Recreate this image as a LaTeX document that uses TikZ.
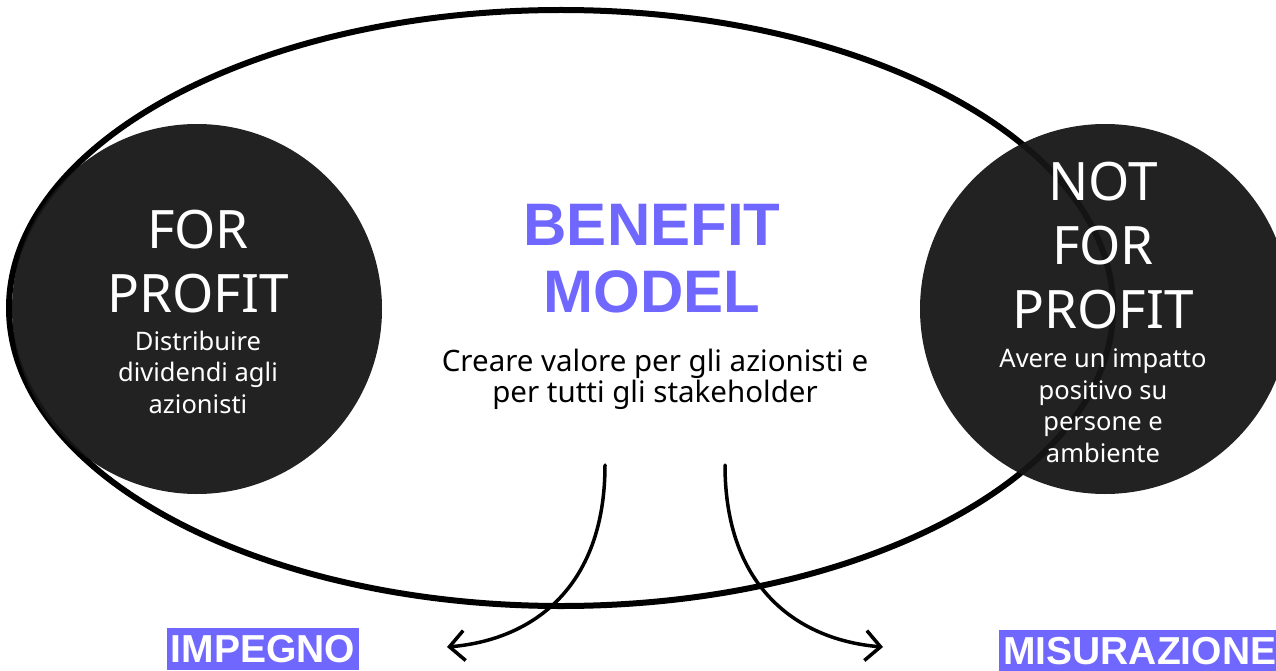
\documentclass[tikz,border=0pt]{standalone}
\usepackage{fontspec}
\setmainfont{Noto Sans}
\newfontfamily\heavy{Liberation Sans}
\usetikzlibrary{arrows.meta,shapes.geometric}
\definecolor{purp}{RGB}{112,103,255}
\definecolor{dark}{RGB}{22,22,22}
\tikzset{
  disc/.style={circle, fill=dark, fill opacity=0.95, minimum size=370pt, inner sep=0pt},
  bigtxt/.style={text=white, font=\fontsize{53}{64}\selectfont, align=center, inner sep=0pt, anchor=base},
  subtxt/.style={text=white, font=\fontsize{25.5}{31.5}\selectfont, align=center, inner sep=0pt, anchor=base},
  tag/.style={fill=purp, text=white, font=\heavy\bfseries\fontsize{39}{39}\selectfont, inner xsep=4pt, inner ysep=4pt, text height=30pt, text depth=4pt, anchor=base},
  curvearrow/.style={line width=3.5pt, line cap=round, -{Straight Barb[length=15pt,width=30pt,line width=3.5pt]}}
}
\begin{document}
\begin{tikzpicture}[x=1pt,y=-1pt]
\useasboundingbox (0,0) rectangle (1276,671);
\node[draw=black, line width=6pt, ellipse, minimum width=1104pt, minimum height=596pt, inner sep=0pt] (ell) at (561,308) {};
\node[disc] (fp) at (197,309) {};
\node[disc] (nfp) at (1105,309) {};
\node[bigtxt] (fpt) at (198,312) {FOR\\PROFIT};
\node[subtxt] (fps) at (198,413) {Distribuire\\dividendi agli\\azionisti};
\node[bigtxt] (nfpt) at (1103,328) {NOT\\FOR\\PROFIT};
\node[subtxt] (nfps) at (1103,462) {Avere un impatto\\positivo su\\persone e\\ambiente};
\node[text=purp, font=\heavy\bfseries\fontsize{60}{67}\selectfont, align=center, inner sep=0pt, anchor=base] (bm) at (652,312) {BENEFIT\\MODEL};
\node[font=\fontsize{29.5}{31}\selectfont, align=center, inner sep=0pt, anchor=base] (cv) at (655,402) {Creare valore per gli azionisti e\\per tutti gli stakeholder};
\coordinate (s1) at (605,465);
\coordinate (e1) at (447,647);
\coordinate (s2) at (725,465);
\coordinate (e2) at (883,647);
\draw[curvearrow] (s1) .. controls (605,590) and (530,640) .. (e1);
\draw[curvearrow] (s2) .. controls (725,590) and (800,640) .. (e2);
\node[tag] (imp) at (263,662) {IMPEGNO};
\node[tag, anchor=base west] (mis) at (999,664) {MISURAZIONE};
\end{tikzpicture}
\end{document}
